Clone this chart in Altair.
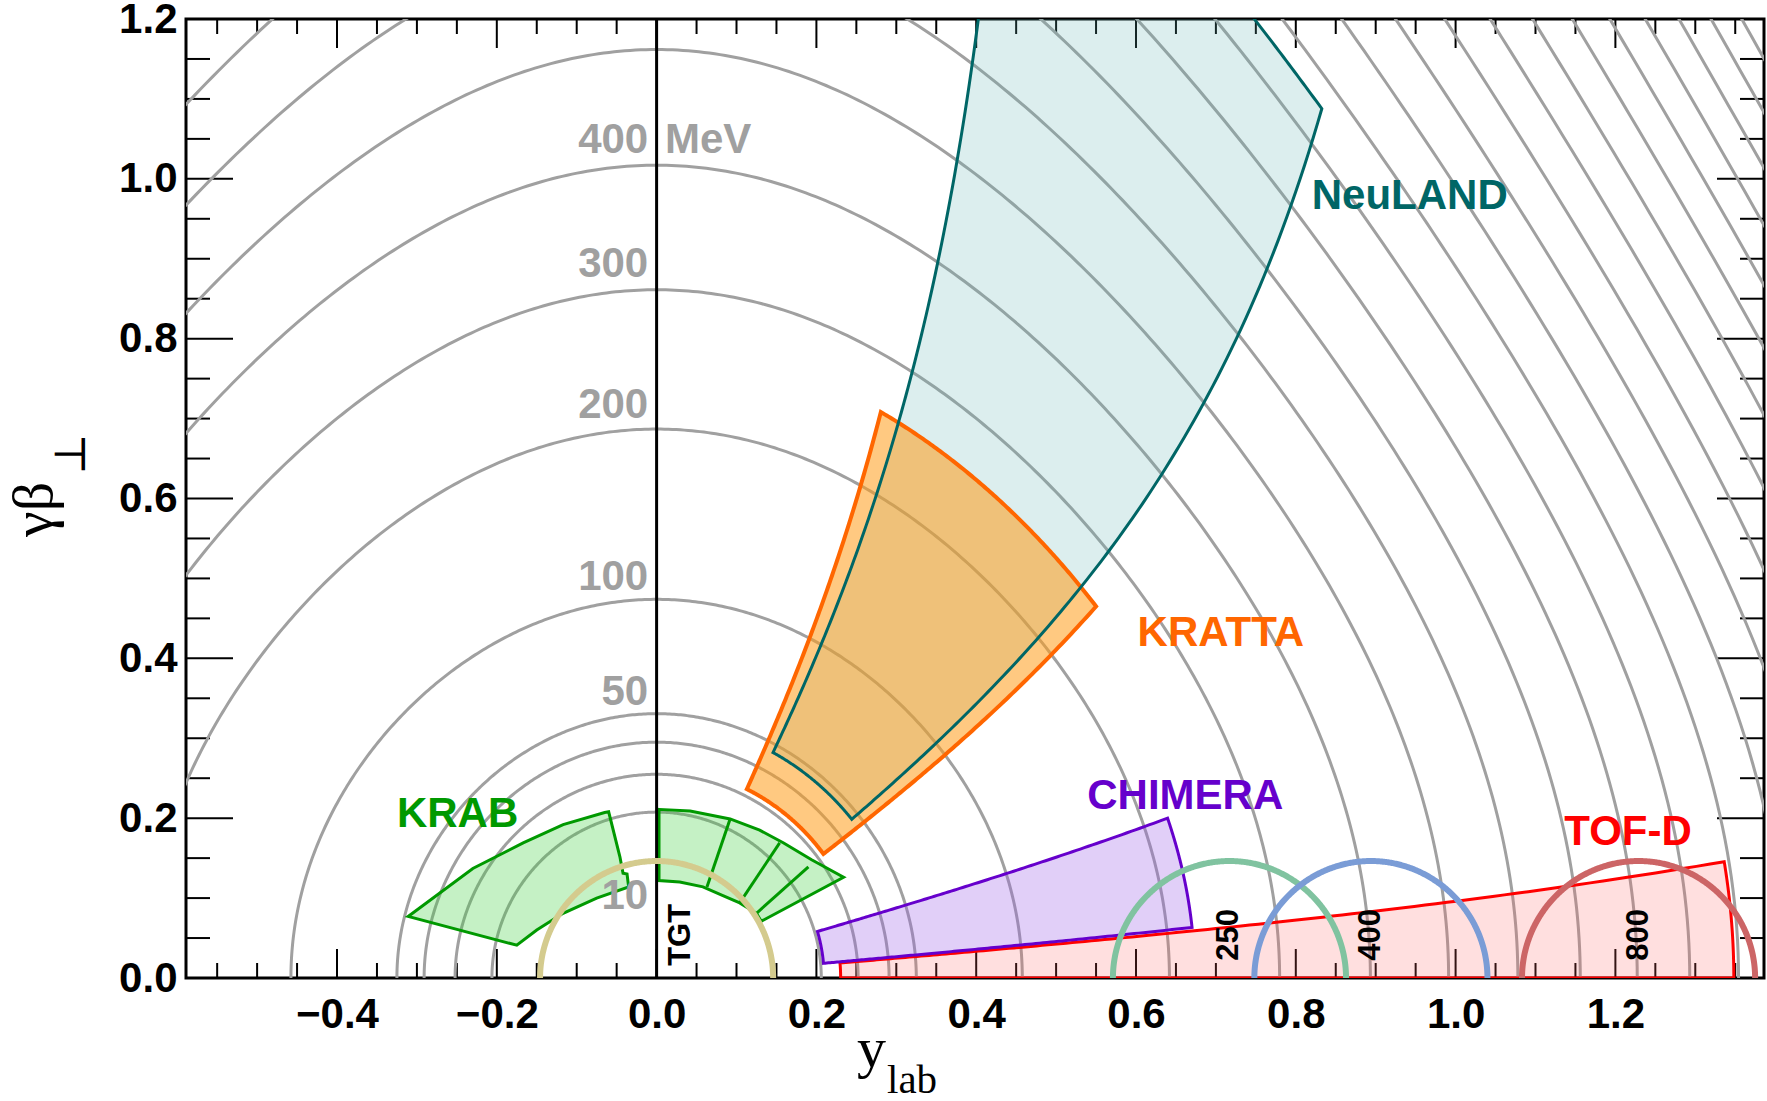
import math
import altair as alt
import pandas as pd

M_P = 938.272  # proton mass [MeV]

# Iso-kinetic-energy contours of a proton emitted from the target [MeV]
CONTOUR_EKIN = [10, 20, 30, 40, 50, 100, 200, 300, 400, 500, 600, 700, 800,
                900, 1000, 1100, 1200, 1300, 1400, 1500, 1600, 1700, 1800,
                1900, 2000, 2100]

CONTOUR_TAGS = ["400", "300", "200", "100", "50", "10"]
CONTOUR_TAG_Y = [1.048, 0.893, 0.717, 0.502, 0.358, 0.102]
UNIT_TAG = "MeV"

# Detector acceptances: polar angle range [deg] and kinetic energy range [MeV]
DETECTORS = ["TOF-D", "CHIMERA", "KRATTA", "NeuLAND"]
THETA_LO = [0.0, 5.0, 36.1, 38.3]
THETA_HI = [4.65, 16.0, 63.8, 61.7]
EKIN_LO = [25.0, 20.7, 32.0, 47.0]
EKIN_HI = [990.0, 221.0, 257.0, 957.0]
DETECTOR_TAG_X = [1.136, 0.539, 0.602, 0.820]
DETECTOR_TAG_Y = [0.183, 0.228, 0.432, 0.979]

# KRAB: backward and forward pieces (y_lab, gamma*beta_T outline vertices)
KRAB_BACK_X = [-0.311, -0.230, -0.167, -0.117, -0.065, -0.060, -0.046, -0.042,
               -0.037, -0.035, -0.075, -0.117, -0.150, -0.175]
KRAB_BACK_Y = [0.077, 0.137, 0.169, 0.192, 0.207, 0.208, 0.152, 0.131,
               0.130, 0.114, 0.100, 0.081, 0.060, 0.041]
KRAB_FWD_X = [0.003, 0.042, 0.092, 0.129, 0.159, 0.194, 0.234, 0.131,
              0.125, 0.104, 0.083, 0.058, 0.029, 0.003]
KRAB_FWD_Y = [0.211, 0.209, 0.199, 0.185, 0.169, 0.148, 0.126, 0.071,
              0.081, 0.094, 0.103, 0.114, 0.120, 0.122]
KRAB_SEG_X0 = [0.092, 0.154, 0.190]
KRAB_SEG_Y0 = [0.199, 0.169, 0.139]
KRAB_SEG_X1 = [0.063, 0.104, 0.125]
KRAB_SEG_Y1 = [0.114, 0.094, 0.081]
KRAB_TAG = "KRAB"
KRAB_TAG_X = -0.325
KRAB_TAG_Y = 0.205

# Emitting sources: target and projectile rapidities for 250/400/800 MeV/u
SOURCES = ["TGT", "250", "400", "800"]
SOURCE_RAPIDITY = [0.0, 0.717, 0.894, 1.229]
SOURCE_TAG_X = [0.031, 0.717, 0.894, 1.229]
SOURCE_TAG_Y = 0.054
SOURCE_EKIN = 10.0

# Axis ticks
X_MAJOR = [-0.4, -0.2, 0.0, 0.2, 0.4, 0.6, 0.8, 1.0, 1.2]
X_MINOR = [round(0.05 * k, 2) for k in range(-11, 28) if k % 4 != 0]
Y_MAJOR = [0.0, 0.2, 0.4, 0.6, 0.8, 1.0, 1.2]
Y_MINOR = [round(0.05 * k, 2) for k in range(1, 24) if k % 4 != 0]

X_TITLE = ["y", "lab"]
Y_TITLE = ["γβ", "⊥"]

# ---------------------------------------------------------------- styling
W, H = 1578, 959
X_DOMAIN = [-0.589, 1.386]
Y_DOMAIN = [0.0, 1.2]
SANS = "Liberation Sans"
SERIF = "Liberation Serif"
GREY = "#a0a0a0"
STYLE = {
    "NeuLAND": dict(line="#006666", fill="#5fb3b3", alpha=0.22, width=3),
    "KRATTA": dict(line="#ff6600", fill="#ff9c1a", alpha=0.55, width=4),
    "CHIMERA": dict(line="#6600cc", fill="#9a5fe8", alpha=0.3, width=3),
    "TOF-D": dict(line="#ff0000", fill="#ff6060", alpha=0.2, width=3),
    "KRAB": dict(line="#009900", fill="#40d040", alpha=0.3, width=3),
}
ARC_COLORS = {"TGT": "#d4cb8e", "250": "#80c3a0", "400": "#7a9cd6", "800": "#cc6566"}
X_TICK, X_TICK_MINOR = 29, 15
Y_TICK, Y_TICK_MINOR = 47, 24

XS = alt.Scale(domain=X_DOMAIN, nice=False, zero=False)
YS = alt.Scale(domain=Y_DOMAIN, nice=False, zero=False)
X_AXIS = alt.Axis(values=X_MAJOR, format=".1f", title=None, grid=False, ticks=False,
                  tickSize=0, domain=False, labelFont=SANS, labelFontWeight="bold",
                  labelFontSize=42, labelColor="black", labelPadding=16,
                  labelFlush=False, labelOverlap=False)
Y_AXIS = alt.Axis(values=Y_MAJOR, format=".1f", title=None, grid=False, ticks=False,
                  tickSize=0, domain=False, labelFont=SANS, labelFontWeight="bold",
                  labelFontSize=42, labelColor="black", labelPadding=9,
                  labelFlush=False, labelOverlap=False)


def xenc(field="x"):
    return alt.X(f"{field}:Q", scale=XS, axis=X_AXIS)


def yenc(field="y"):
    return alt.Y(f"{field}:Q", scale=YS, axis=Y_AXIS)


def kin(theta_deg, ekin, y_src=0.0):
    """Rapidity and gamma*beta_T of a proton with given angle and kinetic energy."""
    gam = 1.0 + ekin / M_P
    p = math.sqrt(gam * gam - 1.0)
    th = math.radians(theta_deg)
    pz, pt = p * math.cos(th), p * math.sin(th)
    return y_src + math.asinh(pz / math.sqrt(1.0 + pt * pt)), pt


def contour(ekin, y_src=0.0, tag=None):
    rows = []
    for i in range(361):
        x, y = kin(0.5 * i, ekin, y_src)
        rows.append({"g": tag if tag is not None else str(ekin), "i": i, "x": x, "y": y})
    return rows


def acceptance(th_lo, th_hi, e_lo, e_hi, n=120):
    pts = []
    for i in range(n + 1):
        pts.append(kin(th_lo, e_lo * (e_hi / e_lo) ** (i / n)))
    for i in range(n + 1):
        pts.append(kin(th_lo + (th_hi - th_lo) * i / n, e_hi))
    for i in range(n + 1):
        pts.append(kin(th_hi, e_hi * (e_lo / e_hi) ** (i / n)))
    for i in range(n + 1):
        pts.append(kin(th_hi - (th_hi - th_lo) * i / n, e_lo))
    return pd.DataFrame({"i": range(len(pts)), "x": [p[0] for p in pts],
                         "y": [p[1] for p in pts]})


def polygon(df, style, fill=True, stroke=True):
    s = STYLE[style]
    opts = dict(interpolate="linear-closed", clip=True, strokeJoin="miter")
    if fill:
        opts.update(fill=s["fill"], fillOpacity=s["alpha"])
    else:
        opts.update(fill="transparent")
    if stroke:
        opts.update(stroke=s["line"], strokeWidth=s["width"])
    else:
        opts.update(strokeOpacity=0)
    return alt.Chart(df).mark_line(**opts).encode(
        x=xenc(), y=yenc(), order=alt.Order("i:Q"))


layers = []

# tick marks drawn inside the frame on all four sides
for vals, length in ((X_MAJOR, X_TICK), (X_MINOR, X_TICK_MINOR)):
    d = pd.DataFrame({"v": vals})
    layers.append(alt.Chart(d).mark_rule(color="black", strokeWidth=2).encode(
        x=xenc("v"), y=alt.value(H), y2=alt.value(H - length)))
    layers.append(alt.Chart(d).mark_rule(color="black", strokeWidth=2).encode(
        x=xenc("v"), y=alt.value(0), y2=alt.value(length)))
for vals, length in ((Y_MAJOR, Y_TICK), (Y_MINOR, Y_TICK_MINOR)):
    d = pd.DataFrame({"v": vals})
    layers.append(alt.Chart(d).mark_rule(color="black", strokeWidth=2).encode(
        y=yenc("v"), x=alt.value(0), x2=alt.value(length)))
    layers.append(alt.Chart(d).mark_rule(color="black", strokeWidth=2).encode(
        y=yenc("v"), x=alt.value(W), x2=alt.value(W - length)))

# grey iso-energy contours
rows = []
for e in CONTOUR_EKIN:
    rows += contour(e)
layers.append(alt.Chart(pd.DataFrame(rows)).mark_line(
    color=GREY, strokeWidth=3, clip=True).encode(
    x=xenc(), y=yenc(), detail="g:N", order=alt.Order("i:Q")))

# detector acceptances
outlines = {}
for name, tl, th, el, eh in zip(DETECTORS, THETA_LO, THETA_HI, EKIN_LO, EKIN_HI):
    outlines[name] = acceptance(tl, th, el, eh)

layers.append(polygon(outlines["TOF-D"], "TOF-D"))
layers.append(polygon(outlines["CHIMERA"], "CHIMERA"))
layers.append(polygon(pd.DataFrame({"i": range(len(KRAB_BACK_X)), "x": KRAB_BACK_X,
                                    "y": KRAB_BACK_Y}), "KRAB"))
layers.append(polygon(pd.DataFrame({"i": range(len(KRAB_FWD_X)), "x": KRAB_FWD_X,
                                    "y": KRAB_FWD_Y}), "KRAB"))
layers.append(alt.Chart(pd.DataFrame({"x": KRAB_SEG_X0, "y": KRAB_SEG_Y0,
                                      "x2": KRAB_SEG_X1, "y2": KRAB_SEG_Y1})).mark_rule(
    color=STYLE["KRAB"]["line"], strokeWidth=3).encode(
    x=xenc(), y=yenc(), x2="x2:Q", y2="y2:Q"))
layers.append(polygon(outlines["NeuLAND"], "NeuLAND", stroke=False))
layers.append(polygon(outlines["KRATTA"], "KRATTA"))
layers.append(polygon(outlines["NeuLAND"], "NeuLAND", fill=False))

# target line
layers.append(alt.Chart(pd.DataFrame({"x": [0.0]})).mark_rule(
    color="black", strokeWidth=3).encode(x=xenc(), y=alt.value(0), y2=alt.value(H)))

# 10 MeV circles around the emitting sources
for src, ys in zip(SOURCES, SOURCE_RAPIDITY):
    layers.append(alt.Chart(pd.DataFrame(contour(SOURCE_EKIN, ys, src))).mark_line(
        color=ARC_COLORS[src], strokeWidth=6, clip=True).encode(
        x=xenc(), y=yenc(), order=alt.Order("i:Q")))

# contour energy tags
layers.append(alt.Chart(pd.DataFrame({"t": CONTOUR_TAGS, "x": [-0.0105] * len(CONTOUR_TAGS),
                                      "y": CONTOUR_TAG_Y})).mark_text(
    font=SANS, fontWeight="bold", fontSize=42, color=GREY, align="right",
    baseline="middle").encode(x=xenc(), y=yenc(), text="t:N"))
layers.append(alt.Chart(pd.DataFrame({"t": [UNIT_TAG], "x": [0.0104],
                                      "y": [CONTOUR_TAG_Y[0]]})).mark_text(
    font=SANS, fontWeight="bold", fontSize=42, color=GREY, align="left",
    baseline="middle").encode(x=xenc(), y=yenc(), text="t:N"))

# detector names
for name, tx, ty in zip(DETECTORS + [KRAB_TAG], DETECTOR_TAG_X + [KRAB_TAG_X],
                        DETECTOR_TAG_Y + [KRAB_TAG_Y]):
    layers.append(alt.Chart(pd.DataFrame({"t": [name], "x": [tx], "y": [ty]})).mark_text(
        font=SANS, fontWeight="bold", fontSize=42, color=STYLE[name]["line"],
        align="left", baseline="middle").encode(x=xenc(), y=yenc(), text="t:N"))

# source tags
layers.append(alt.Chart(pd.DataFrame({"t": SOURCES, "x": SOURCE_TAG_X,
                                      "y": [SOURCE_TAG_Y] * len(SOURCES)})).mark_text(
    font=SANS, fontWeight="bold", fontSize=31, color="black", angle=270,
    align="center", baseline="middle").encode(x=xenc(), y=yenc(), text="t:N"))

# axis titles with subscripts
layers.append(alt.Chart(pd.DataFrame({"t": [X_TITLE[0]]})).mark_text(
    font=SERIF, fontSize=58, color="black", align="left", baseline="alphabetic").encode(
    x=alt.value(671), y=alt.value(1048), text="t:N"))
layers.append(alt.Chart(pd.DataFrame({"t": [X_TITLE[1]]})).mark_text(
    font=SERIF, fontSize=41, color="black", align="left", baseline="alphabetic").encode(
    x=alt.value(701), y=alt.value(1074), text="t:N"))
layers.append(alt.Chart(pd.DataFrame({"t": [Y_TITLE[0]]})).mark_text(
    font=SERIF, fontSize=58, color="black", align="left", baseline="alphabetic",
    angle=270).encode(x=alt.value(-134), y=alt.value(518), text="t:N"))
layers.append(alt.Chart(pd.DataFrame({"t": [Y_TITLE[1]]})).mark_text(
    font="DejaVu Serif", fontSize=44, color="black", align="left", baseline="alphabetic",
    angle=270).encode(x=alt.value(-101), y=alt.value(456), text="t:N"))

chart = alt.layer(*layers).properties(
    width=W, height=H, autosize=alt.AutoSizeParams(type="none"),
    padding={"left": 186, "top": 19, "right": 3, "bottom": 123},
    background="white",
).configure_view(stroke="black", strokeWidth=3)

chart.save("out.html", embed_options={"renderer": "svg", "actions": False})
